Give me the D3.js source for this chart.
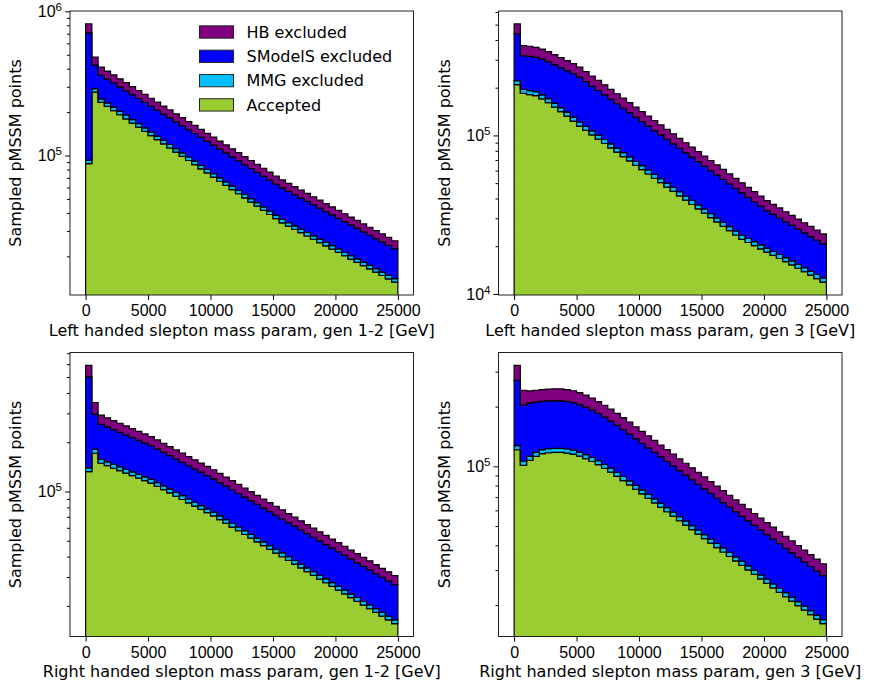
<!DOCTYPE html>
<html>

<head>
  <meta charset="utf-8" />
  <script src="https://cdn.jsdelivr.net/npm/d3@7/dist/d3.min.js"></script>
  <style>
    body {
      margin: 0;
      background: #fff;
    }

    svg {
      font-family: "DejaVu Sans", sans-serif;
    }

    .tick text {
      font-size: 16px;
      fill: #000;
    }

    .tick line {
      stroke: #000;
    }

    .hist {
      stroke: #000;
      stroke-width: 1.2px;
      stroke-linejoin: miter;
    }
  </style>
</head>

<body>
</body>
<script>
  "use strict";

  var categories = ["Accepted", "MMG excluded", "SModelS excluded", "HB excluded"];
  var colors = ["#9acd32", "#00bfff", "#0000ff", "#800080"];
  var xTicks = [0, 5000, 10000, 15000, 20000, 25000];
  var binWidth = 500;

  // Left handed slepton, gen 1-2
  var lh12Accepted = [88000, 275000, 234000, 219000, 204900, 191800, 179500, 167900, 157200, 147100, 137600, 128800, 120500, 112800, 105500, 98760, 92420, 86480, 80930, 75740, 70880, 66330, 62070, 58080, 54350, 50870, 47600, 44540, 41690, 39010, 36500, 34160, 32410, 30750, 29180, 27680, 26270, 24920, 23650, 22440, 21290, 20200, 19160, 18180, 17250, 16370, 15530, 14730, 13980, 13260];
  var lh12Mmg = [4800, 15700, 13300, 12500, 11700, 10900, 10200, 9570, 8960, 8380, 7840, 7340, 6870, 6430, 6010, 5630, 5270, 4930, 4610, 4320, 4040, 3780, 3540, 3310, 3100, 2900, 2710, 2540, 2380, 2220, 2080, 1950, 1850, 1750, 1660, 1580, 1500, 1420, 1350, 1280, 1210, 1150, 1090, 1040, 983, 933, 885, 840, 797, 756];
  var lh12SModelS = [616000, 132600, 113500, 107600, 102000, 96800, 91700, 87000, 82400, 78100, 74200, 70300, 66600, 63000, 59700, 56600, 53600, 50800, 48100, 45500, 43100, 40800, 38700, 36600, 34600, 32800, 31000, 29400, 27800, 26300, 24900, 23500, 22200, 21000, 19900, 18800, 17800, 16800, 15900, 15000, 14200, 13400, 12700, 12000, 11300, 10700, 10100, 9590, 9050, 8560];
  var lh12Hb = [109000, 57700, 49200, 46200, 43500, 40800, 38400, 36100, 33900, 31900, 29900, 28100, 26400, 24900, 23400, 21900, 20600, 19400, 18200, 17100, 16100, 15100, 14200, 13400, 12600, 11800, 11100, 10400, 9790, 9200, 8650, 8130, 7700, 7300, 6920, 6550, 6210, 5880, 5570, 5280, 5000, 4740, 4490, 4260, 4030, 3820, 3620, 3430, 3250, 3080];

  // Left handed slepton, gen 3
  var lh3Accepted = [209200, 184400, 180900, 178300, 170000, 161000, 150800, 141300, 132400, 123100, 114500, 107500, 100900, 94710, 88910, 83460, 78340, 73540, 69030, 64800, 60830, 57100, 53600, 50310, 47230, 44330, 41610, 39060, 36670, 34420, 32310, 30330, 28470, 26730, 25090, 23550, 22110, 21110, 20150, 19230, 18360, 17530, 16730, 15970, 15250, 14520, 13830, 13150, 12500, 11880];
  var lh3Mmg = [12600, 11100, 10900, 10700, 10200, 9660, 9050, 8480, 7940, 7390, 6870, 6450, 6050, 5680, 5330, 5010, 4700, 4410, 4140, 3890, 3650, 3430, 3220, 3020, 2830, 2660, 2500, 2340, 2200, 2070, 1940, 1820, 1710, 1600, 1510, 1410, 1330, 1270, 1210, 1150, 1100, 1050, 1000, 958, 915, 873, 833, 796, 760, 725];
  var lh3SModelS = [214700, 123200, 123700, 121800, 122600, 121300, 119800, 117900, 116000, 114800, 111800, 104600, 97900, 91600, 85800, 80300, 75300, 70400, 65900, 61600, 57700, 54000, 50500, 47400, 44300, 41400, 38800, 36300, 34000, 31800, 29800, 27900, 26100, 24400, 22800, 21400, 20000, 18300, 16800, 15400, 14100, 13200, 12400, 11600, 10900, 10230, 9640, 9080, 8560, 8070];
  var lh3Hb = [68500, 50000, 49500, 48800, 47500, 45900, 43900, 42000, 40200, 38500, 36600, 34300, 32200, 30200, 28300, 26500, 24800, 23300, 21800, 20500, 19200, 18000, 16900, 15800, 14800, 13900, 13000, 12200, 11400, 10700, 10100, 9420, 8830, 8280, 7760, 7280, 6820, 6390, 5990, 5620, 5270, 4990, 4730, 4480, 4250, 4030, 3820, 3620, 3430, 3250];

  // Right handed slepton, gen 1-2
  var rh12Accepted = [132300, 171200, 148800, 143700, 138700, 134000, 129400, 124900, 120600, 116500, 112500, 107400, 102600, 97950, 93530, 89310, 85280, 81440, 77770, 74260, 70910, 67300, 63870, 60620, 57540, 54610, 51830, 49190, 46690, 44310, 42060, 39920, 37890, 35960, 34130, 32390, 30740, 29180, 27690, 26280, 24950, 23680, 22470, 21330, 20240, 19210, 18230, 17310, 16430, 15590];
  var rh12Mmg = [7280, 9420, 8180, 7900, 7630, 7370, 7120, 6870, 6630, 6410, 6190, 5910, 5640, 5390, 5140, 4910, 4690, 4480, 4280, 4080, 3900, 3700, 3510, 3330, 3160, 3000, 2850, 2710, 2570, 2440, 2310, 2200, 2080, 1980, 1880, 1780, 1690, 1600, 1520, 1450, 1370, 1300, 1240, 1170, 1110, 1060, 1000, 952, 904, 857];
  var rh12SModelS = [361200, 116600, 100500, 96300, 92400, 88500, 84800, 81300, 78000, 74700, 71600, 68300, 65200, 62100, 59300, 56500, 53900, 51500, 49100, 46800, 44600, 42400, 40400, 38500, 36500, 34800, 33100, 31500, 29900, 28500, 27100, 25800, 24500, 23400, 22200, 21100, 20100, 19100, 18200, 17300, 16500, 15700, 14900, 14200, 13500, 12900, 12200, 11600, 11100, 10500];
  var rh12Hb = [88400, 52400, 35100, 33800, 32600, 31300, 30200, 29100, 28000, 27000, 25900, 24800, 23600, 22600, 21500, 20600, 19600, 18700, 17900, 17100, 16300, 15500, 14700, 14000, 13300, 12600, 12000, 11400, 10800, 10300, 9750, 9260, 8800, 8360, 7940, 7540, 7170, 6810, 6470, 6140, 5840, 5550, 5270, 5000, 4750, 4520, 4290, 4080, 3870, 3680];

  // Right handed slepton, gen 3
  var rh3Accepted = [121200, 101200, 107200, 112200, 115800, 117100, 117500, 117500, 116700, 115100, 112500, 109400, 105800, 101900, 97680, 93420, 89080, 84790, 80600, 76520, 72630, 68990, 65480, 62190, 59050, 56060, 53190, 50510, 47980, 45550, 43240, 41050, 38980, 37010, 35130, 33360, 31670, 30070, 28550, 27100, 25730, 24430, 23190, 22020, 20910, 19850, 18840, 17890, 16990, 16130];
  var rh3Mmg = [5820, 4860, 5150, 5390, 5560, 5620, 5640, 5640, 5600, 5520, 5400, 5250, 5080, 4890, 4690, 4480, 4280, 4070, 3870, 3670, 3490, 3310, 3140, 2990, 2830, 2690, 2550, 2420, 2300, 2190, 2080, 1970, 1870, 1780, 1690, 1600, 1520, 1440, 1370, 1300, 1240, 1170, 1110, 1060, 1000, 953, 904, 859, 816, 774];
  var rh3SModelS = [144200, 97300, 96700, 93000, 90900, 90900, 91200, 90700, 90000, 88800, 86800, 84100, 81200, 77900, 74600, 71200, 67650, 64240, 60930, 57710, 54580, 51700, 48980, 46430, 43920, 41550, 39370, 37310, 35310, 33440, 31670, 30000, 28390, 26880, 25470, 24110, 22830, 21620, 20470, 19380, 18350, 17380, 16460, 15580, 14760, 13970, 13240, 12530, 11860, 11230];
  var rh3Hb = [51300, 38400, 30900, 31200, 31500, 31600, 31700, 31700, 31500, 31000, 30300, 29500, 28500, 27400, 26200, 25000, 23900, 22700, 21500, 20400, 19400, 18400, 17400, 16500, 15700, 14900, 14100, 13400, 12700, 12000, 11400, 10800, 10300, 9730, 9220, 8750, 8300, 7870, 7460, 7080, 6710, 6370, 6040, 5730, 5430, 5150, 4880, 4630, 4390, 4170];

  var panels = [{
    label: "Left handed slepton mass param, gen 1-2 [GeV]",
    series: [lh12Accepted, lh12Mmg, lh12SModelS, lh12Hb],
    col: 0, row: 0, legend: true
  }, {
    label: "Left handed slepton mass param, gen 3 [GeV]",
    series: [lh3Accepted, lh3Mmg, lh3SModelS, lh3Hb],
    col: 1, row: 0
  }, {
    label: "Right handed slepton mass param, gen 1-2 [GeV]",
    series: [rh12Accepted, rh12Mmg, rh12SModelS, rh12Hb],
    col: 0, row: 1
  }, {
    label: "Right handed slepton mass param, gen 3 [GeV]",
    series: [rh3Accepted, rh3Mmg, rh3SModelS, rh3Hb],
    col: 1, row: 1
  }];

  var width = 871,
    height = 687;
  var colLeft = [70, 498.5],
    rowTop = [11, 352.5],
    plotW = 343.5,
    plotH = 284;

  var svg = d3.select("body")
    .append("svg")
    .attr("width", width)
    .attr("height", height);

  panels.forEach(function(p, idx) {
    drawPanel(p, idx);
  });

  function drawPanel(p, idx) {
    var g = svg.append("g")
      .attr("transform", "translate(" + colLeft[p.col] + "," + rowTop[p.row] + ")");

    var nBins = p.series[0].length;
    var xMax = nBins * binWidth;
    var x = d3.scaleLinear()
      .domain([-0.05 * xMax, 1.05 * xMax])
      .range([0, plotW]);

    // Rows for the stack.
    var rows = d3.range(nBins).map(function(i) {
      var r = {};
      categories.forEach(function(c, k) {
        r[c] = p.series[k][i];
      });
      return r;
    });
    var stacked = d3.stack().keys(categories)(rows);

    // log autoscale with 5% margins, as matplotlib does
    var lo = Math.log10(d3.min(p.series[0])),
      hi = Math.log10(d3.max(stacked[stacked.length - 1], function(d) {
        return d[1];
      }));
    var pad = 0.05 * (hi - lo);
    var y = d3.scaleLog()
      .domain([Math.pow(10, lo - pad), Math.pow(10, hi + pad)])
      .range([plotH, 0]);

    var clipId = "clip" + idx;
    g.append("clipPath").attr("id", clipId)
      .append("rect").attr("width", plotW).attr("height", plotH);

    var area = d3.area()
      .x(function(d) {
        return x(d.x);
      })
      .y0(function(d) {
        return d.y0 > 0 ? y(d.y0) : plotH + 20;
      })
      .y1(function(d) {
        return y(d.y1);
      });

    var histG = g.append("g").attr("clip-path", "url(#" + clipId + ")");

    stacked.forEach(function(layer, k) {
      var pts = [];
      layer.forEach(function(d, i) {
        pts.push({ x: i * binWidth, y0: d[0], y1: d[1] });
        pts.push({ x: (i + 1) * binWidth, y0: d[0], y1: d[1] });
      });
      histG.append("path")
        .attr("class", "hist")
        .attr("d", area(pts))
        .attr("fill", colors[k]);
    });

    // x axis
    var xAxis = g.append("g")
      .attr("transform", "translate(0," + plotH + ")")
      .call(d3.axisBottom(x).tickValues(xTicks).tickSize(5).tickPadding(5).tickFormat(d3.format("d")));
    xAxis.select(".domain").remove();
    xAxis.selectAll(".tick text").attr("font-family", null);

    // y axis: major decades + minor ticks
    var dom = y.domain();
    var major = [],
      minor = [];
    for (var e = Math.floor(Math.log10(dom[0])); e <= Math.ceil(Math.log10(dom[1])); e++) {
      var base = Math.pow(10, e);
      if (base >= dom[0] * 0.999 && base <= dom[1] * 1.001) major.push(base);
      for (var m = 2; m <= 9; m++) {
        var v = m * base;
        if (v >= dom[0] && v <= dom[1]) minor.push(v);
      }
    }

    var yMinor = g.append("g")
      .call(d3.axisLeft(y).tickValues(minor).tickSize(3).tickFormat(""));
    yMinor.select(".domain").remove();

    var yMajor = g.append("g")
      .call(d3.axisLeft(y).tickValues(major).tickSize(5).tickPadding(3));
    yMajor.select(".domain").remove();
    yMajor.selectAll(".tick text")
      .attr("font-family", null)
      .each(function(d) {
        var t = d3.select(this);
        t.text(null);
        t.append("tspan").text("10");
        t.append("tspan")
          .attr("dy", "-6")
          .style("font-size", "11.5px")
          .text(Math.round(Math.log10(d)));
      });

    // frame
    g.append("rect")
      .attr("width", plotW)
      .attr("height", plotH)
      .attr("fill", "none")
      .attr("stroke", "#222")
      .attr("stroke-width", 1);

    // labels
    g.append("text")
      .attr("x", plotW / 2)
      .attr("y", plotH + 40.5)
      .attr("text-anchor", "middle")
      .style("font-size", "16px")
      .text(p.label);

    g.append("text")
      .attr("transform", "translate(-49," + plotH / 2 + ") rotate(-90)")
      .attr("text-anchor", "middle")
      .style("font-size", "16px")
      .text("Sampled pMSSM points");

    if (p.legend) {
      var order = categories.slice().reverse();
      var lg = g.append("g").attr("transform", "translate(129.5,21)");
      order.forEach(function(c, j) {
        var k = categories.indexOf(c);
        var row = lg.append("g").attr("transform", "translate(0," + (j * 24.3) + ")");
        row.append("rect")
          .attr("width", 34)
          .attr("height", 12.3)
          .attr("y", -6.15)
          .attr("fill", colors[k])
          .attr("stroke", "#222")
          .attr("stroke-width", 1);
        row.append("text")
          .attr("x", 47)
          .attr("dy", "0.36em")
          .style("font-size", "16px")
          .text(c);
      });
    }
  }
</script>

</html>
